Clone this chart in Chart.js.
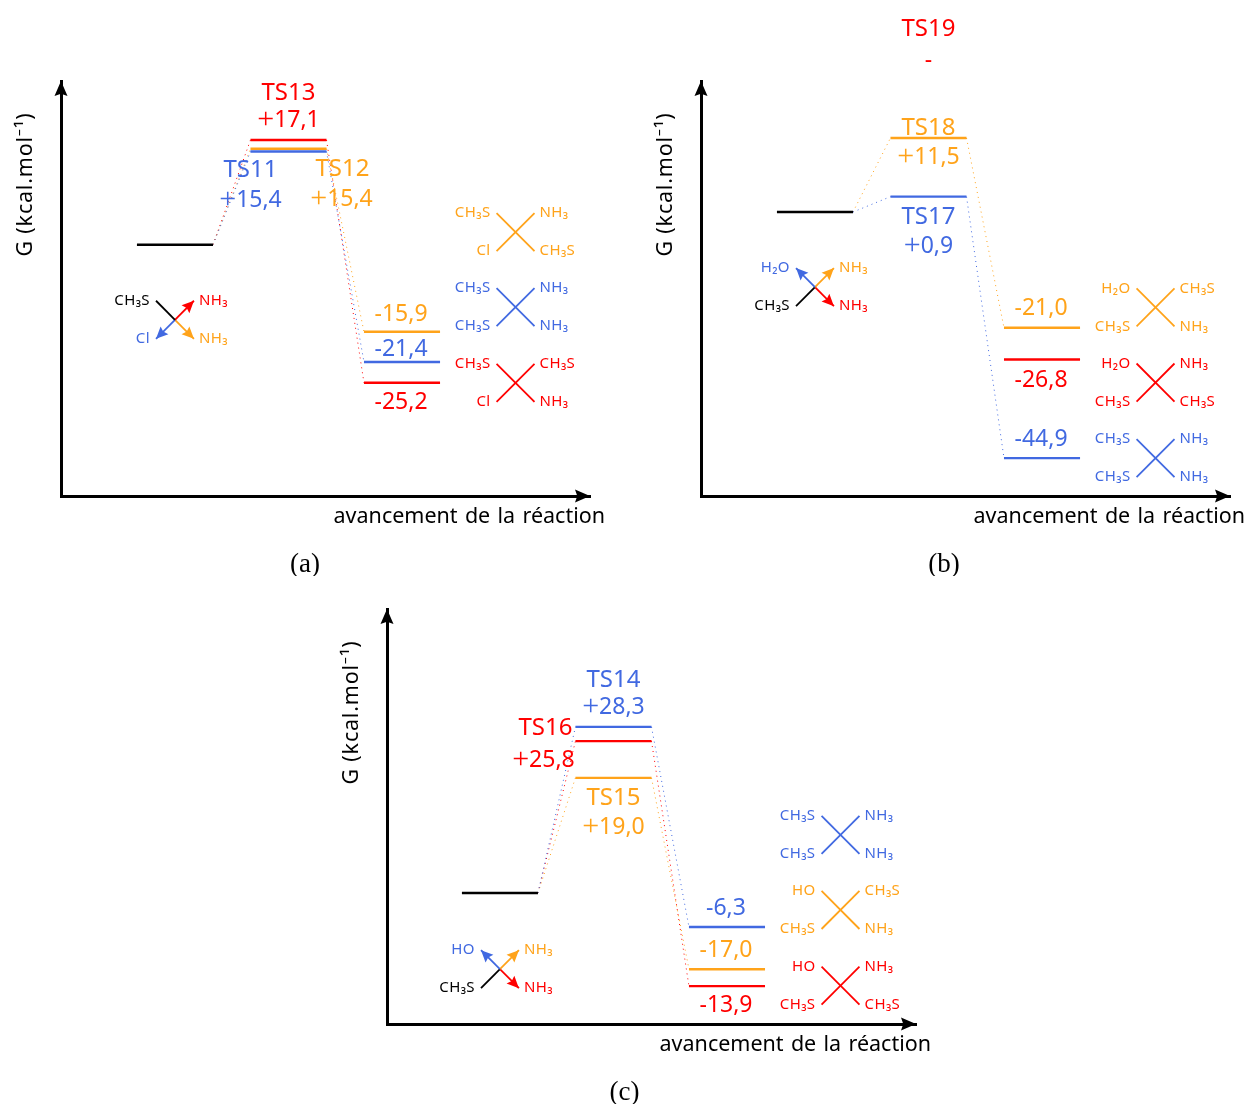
<!DOCTYPE html>
<html>
<head>
<meta charset="utf-8">
<style>
  html, body { margin: 0; padding: 0; background: #fff; }
  body { position: relative; width: 1247px; height: 1104px; overflow: hidden; }
  canvas { position: absolute; }
</style>
<script src="https://cdn.jsdelivr.net/npm/chart.js@4/dist/chart.umd.min.js"></script>
</head>
<body>
<canvas id="panel-a" width="626" height="576" style="left:0;top:0"></canvas>
<canvas id="panel-b" width="607" height="576" style="left:640px;top:0"></canvas>
<canvas id="panel-c" width="626" height="576" style="left:326px;top:528px"></canvas>
<script>
// series order everywhere: blue, orange, red
const seriesColors = ["#4169e1", "#ffa31a", "#ff0000"];
const xAxisLabel = "avancement de la réaction";
const yAxisLabel = "G (kcal.mol⁻¹)";

// (a) level heights as drawn, printed energies, cross heights
const tsLevelsA = [17.0, 17.5, 19.1];
const productLevelsA = [-21.4, -15.9, -25.2];
const tsNamesA = ["TS11", "TS12", "TS13"];
const tsEnergiesA = ["+15,4", "+15,4", "+17,1"];
const productEnergiesA = ["-21,4", "-15,9", "-25,2"];
const crossLevelsA = [-11.4, 2.3, -25.2];
const crossLigandsA = [
  ["CH₃S", "NH₃", "CH₃S", "NH₃"],
  ["CH₃S", "NH₃", "Cl", "CH₃S"],
  ["CH₃S", "CH₃S", "Cl", "NH₃"],
];
const startLevelA = -13.7;
const startLigandsA = ["CH₃S", "NH₃", "Cl", "NH₃"];

// (b)
const tsLevelsB = [2.8, 13.5, null];
const productLevelsB = [-44.9, -21.1, -26.9];
const tsNamesB = ["TS17", "TS18", "TS19"];
const tsEnergiesB = ["+0,9", "+11,5", "-"];
const productEnergiesB = ["-44,9", "-21,0", "-26,8"];
const crossLevelsB = [-44.9, -17.4, -31.1];
const crossLigandsB = [
  ["CH₃S", "NH₃", "CH₃S", "NH₃"],
  ["H₂O", "CH₃S", "CH₃S", "NH₃"],
  ["H₂O", "NH₃", "CH₃S", "CH₃S"],
];
const startLevelB = -13.7;
const startLigandsB = ["H₂O", "NH₃", "CH₃S", "NH₃"];

// (c)
const tsLevelsC = [30.3, 21.0, 27.7];
const productLevelsC = [-6.2, -13.9, -17.0];
const tsNamesC = ["TS14", "TS15", "TS16"];
const tsEnergiesC = ["+28,3", "+19,0", "+25,8"];
const productEnergiesC = ["-6,3", "-17,0", "-13,9"];
const crossLevelsC = [10.6, -3.1, -16.9];
const crossLigandsC = [
  ["CH₃S", "NH₃", "CH₃S", "NH₃"],
  ["HO", "CH₃S", "CH₃S", "NH₃"],
  ["HO", "NH₃", "CH₃S", "CH₃S"],
];
const startLevelC = -13.9;
const startLigandsC = ["HO", "NH₃", "CH₃S", "NH₃"];

// layout, pixels from the level each label belongs to
const panels = [
  {
    id: "panel-a", caption: "(a)", captionX: 244, xMin: -1.004, yMin: -45.86, yMax: 29.87,
    ts: tsLevelsA, products: productLevelsA, names: tsNamesA, tsEnergies: tsEnergiesA,
    productEnergies: productEnergiesA, crosses: crossLevelsA, ligands: crossLigandsA,
    start: startLevelA, startLigands: startLigandsA,
    startColors: ["#000000", seriesColors[2], seriesColors[0], seriesColors[1]],
    tsSpots: [[-38, 17, -38, 47], [54, 19, 53, 49], [0, -48, 0, -21]],
    productDy: [-14, -19, 18],
  },
  {
    id: "panel-b", caption: "(b)", captionX: 243, xMin: -1.004, yMin: -51.8, yMax: 23.9,
    ts: tsLevelsB, products: productLevelsB, names: tsNamesB, tsEnergies: tsEnergiesB,
    productEnergies: productEnergiesB, crosses: crossLevelsB, ligands: crossLigandsB,
    start: startLevelB, startLigands: startLigandsB,
    startColors: [seriesColors[0], seriesColors[1], "#000000", seriesColors[2]],
    tsSpots: [[0, 19, 0, 48], [0, -11, 0, 18], [0, -184, 0, -153]],
    productDy: [-20, -21, 19],
  },
  {
    id: "panel-c", caption: "(c)", captionX: 237.5, xMin: -0.995, yMin: -23.9, yMax: 51.8,
    ts: tsLevelsC, products: productLevelsC, names: tsNamesC, tsEnergies: tsEnergiesC,
    productEnergies: productEnergiesC, crosses: crossLevelsC, ligands: crossLigandsC,
    start: startLevelC, startLigands: startLigandsC,
    startColors: [seriesColors[0], seriesColors[1], "#000000", seriesColors[2]],
    tsSpots: [[0, -48, 0, -21], [0, 19, 0, 48], [-68, -14, -70, 18]],
    productDy: [-20, -20, 18],
  },
];

const X_SPAN = 4.66;
const HALF_LEVEL = 0.335;
const ARM_X = 0.167;
const ARM_Y = 3.47;

const LABEL_FONT = '23px "Noto Sans"';
const NAME_FONT = '24px "Noto Sans"';
const SMALL_FONT = '15px "Noto Sans"';
const AXIS_FONT = '21.5px "Noto Sans"';
const PLUS_FONT = '30px "Liberation Serif"';
const CAPTION_FONT = '27px "Liberation Serif"';

function levelDataset(stage, value, color) {
  return {
    data: [{ x: stage - HALF_LEVEL, y: value }, { x: stage + HALF_LEVEL, y: value }],
    borderColor: color,
    borderWidth: 2.4,
  };
}

function dottedDataset(x1, y1, x2, y2, color) {
  return {
    data: [{ x: x1, y: y1 }, { x: x2, y: y2 }],
    borderColor: color,
    borderWidth: 1,
    borderDash: [1, 4],
  };
}

function buildDatasets(panel) {
  const sets = [];

  sets.push(levelDataset(0, 0, "#000000"));

  panel.ts.forEach((value, i) => {
    if (value === null) return;
    sets.push(levelDataset(1, value, seriesColors[i]));
    sets.push(levelDataset(2, panel.products[i], seriesColors[i]));
    sets.push(dottedDataset(HALF_LEVEL, 0, 1 - HALF_LEVEL, value, seriesColors[i]));
    sets.push(dottedDataset(1 + HALF_LEVEL, value, 2 - HALF_LEVEL, panel.products[i], seriesColors[i]));
  });
  // red product of (b) has no transition state level
  panel.products.forEach((value, i) => {
    if (panel.ts[i] === null) sets.push(levelDataset(2, value, seriesColors[i]));
  });

  panel.crosses.forEach((value, i) => {
    [[-1, 1, 1, -1], [-1, -1, 1, 1]].forEach((arm) => {
      sets.push({
        data: [
          { x: 3 + arm[0] * ARM_X, y: value + arm[1] * ARM_Y },
          { x: 3 + arm[2] * ARM_X, y: value + arm[3] * ARM_Y },
        ],
        borderColor: seriesColors[i],
        borderWidth: 1.8,
      });
    });
  });

  // starting complex: four arms out of the centre, coloured ones end in an arrow
  [[-1, 1], [1, 1], [-1, -1], [1, -1]].forEach((arm, i) => {
    const color = panel.startColors[i];
    sets.push({
      data: [
        { x: 0, y: panel.start },
        { x: arm[0] * ARM_X, y: panel.start + arm[1] * ARM_Y },
      ],
      borderColor: color,
      borderWidth: 1.8,
      arrow: color !== "#000000",
    });
  });

  return sets;
}

function fillLabel(ctx, text, x, y, color, font, align) {
  ctx.font = font;
  ctx.fillStyle = color;
  ctx.textAlign = align || "center";
  ctx.textBaseline = "middle";
  ctx.fillText(text, x, y + 1.5);
}

// the plus sign of the reference is a thin roman one
function fillEnergy(ctx, text, x, y, color) {
  if (text[0] !== "+") {
    fillLabel(ctx, text, x, y, color, LABEL_FONT);
    return;
  }
  const rest = text.slice(1);
  ctx.font = LABEL_FONT;
  const restWidth = ctx.measureText(rest).width;
  ctx.font = PLUS_FONT;
  const plusWidth = ctx.measureText("+").width;
  const left = x - (restWidth + plusWidth) / 2;
  fillLabel(ctx, "+", left, y, color, PLUS_FONT, "left");
  fillLabel(ctx, rest, left + plusWidth, y, color, LABEL_FONT, "left");
}

function fillArrowHead(ctx, x, y, angle, length, halfWidth, color) {
  ctx.save();
  ctx.translate(x, y);
  ctx.rotate(angle);
  ctx.fillStyle = color;
  ctx.beginPath();
  ctx.moveTo(0, 0);
  ctx.lineTo(-length, -halfWidth);
  ctx.lineTo(-length * 0.85, 0);
  ctx.lineTo(-length, halfWidth);
  ctx.closePath();
  ctx.fill();
  ctx.restore();
}

function fillCrossLabels(ctx, names, cx, cy, colors) {
  const c = Array.isArray(colors) ? colors : [colors, colors, colors, colors];
  ctx.letterSpacing = "0.4px";
  fillLabel(ctx, names[0], cx - 25, cy - 20.5, c[0], SMALL_FONT, "right");
  fillLabel(ctx, names[1], cx + 24, cy - 20.5, c[1], SMALL_FONT, "left");
  fillLabel(ctx, names[2], cx - 25, cy + 17.5, c[2], SMALL_FONT, "right");
  fillLabel(ctx, names[3], cx + 24, cy + 17.5, c[3], SMALL_FONT, "left");
  ctx.letterSpacing = "0px";
}

function panelDecorations(panel) {
  return {
    id: "panelDecorations",
    afterDraw(chart) {
      const ctx = chart.ctx;
      const xs = chart.scales.x;
      const ys = chart.scales.y;
      const area = chart.chartArea;
      ctx.save();

      // axis arrows and titles
      fillArrowHead(ctx, area.left, area.top, -Math.PI / 2, 15, 6.5, "#000000");
      fillArrowHead(ctx, area.right, area.bottom, 0, 15, 6.5, "#000000");
      ctx.wordSpacing = "1.7px";
      fillLabel(ctx, xAxisLabel, 605, 515, "#000000", AXIS_FONT, "right");
      ctx.wordSpacing = "0px";
      ctx.save();
      ctx.translate(area.left - 37, 184.5);
      ctx.rotate(-Math.PI / 2);
      ctx.letterSpacing = "0.8px";
      fillLabel(ctx, yAxisLabel, 0, 0, "#000000", AXIS_FONT);
      ctx.letterSpacing = "0px";
      ctx.restore();
      fillLabel(ctx, panel.caption, area.left + panel.captionX, 563, "#000000", CAPTION_FONT);

      // arrow heads on the starting complex
      chart.data.datasets.forEach((set, i) => {
        if (!set.arrow) return;
        const pts = chart.getDatasetMeta(i).data;
        const angle = Math.atan2(pts[1].y - pts[0].y, pts[1].x - pts[0].x);
        fillArrowHead(ctx, pts[1].x, pts[1].y, angle, 12, 5.5, set.borderColor);
      });

      // TS names and energies
      panel.names.forEach((name, i) => {
        const spot = panel.tsSpots[i];
        const px = xs.getPixelForValue(1);
        const py = ys.getPixelForValue(panel.ts[i] === null ? 0 : panel.ts[i]);
        fillLabel(ctx, name, px + spot[0], py + spot[1], seriesColors[i], NAME_FONT);
        fillEnergy(ctx, panel.tsEnergies[i], px + spot[2], py + spot[3], seriesColors[i]);
      });

      // product energies
      panel.productEnergies.forEach((text, i) => {
        const px = xs.getPixelForValue(2) - 1;
        const py = ys.getPixelForValue(panel.products[i]) + panel.productDy[i];
        fillEnergy(ctx, text, px, py, seriesColors[i]);
      });

      // ligands
      panel.crosses.forEach((value, i) => {
        fillCrossLabels(ctx, panel.ligands[i], xs.getPixelForValue(3), ys.getPixelForValue(value), seriesColors[i]);
      });
      fillCrossLabels(ctx, panel.startLigands, xs.getPixelForValue(0), ys.getPixelForValue(panel.start), panel.startColors);

      ctx.restore();
    },
  };
}

function createPanel(panel) {
  const canvas = document.getElementById(panel.id);
  new Chart(canvas, {
    type: "scatter",
    data: { datasets: buildDatasets(panel) },
    options: {
      responsive: false,
      animation: false,
      showLine: true,
      layout: {
        padding: { left: 61, top: 81, right: canvas.width - 590, bottom: 80 },
      },
      elements: { point: { radius: 0 }, line: { tension: 0, borderCapStyle: "butt" } },
      plugins: { legend: { display: false }, tooltip: { enabled: false } },
      scales: {
        x: {
          type: "linear",
          min: panel.xMin,
          max: panel.xMin + X_SPAN,
          afterFit: (scale) => { scale.height = 0; },
          grid: { display: false, drawTicks: false },
          ticks: { display: false },
          border: { color: "#000000", width: 3 },
        },
        y: {
          type: "linear",
          min: panel.yMin,
          max: panel.yMax,
          afterFit: (scale) => { scale.width = 0; },
          grid: { display: false, drawTicks: false },
          ticks: { display: false },
          border: { color: "#000000", width: 3 },
        },
      },
    },
    plugins: [panelDecorations(panel)],
  });
}

panels.forEach(createPanel);
</script>
</body>
</html>
